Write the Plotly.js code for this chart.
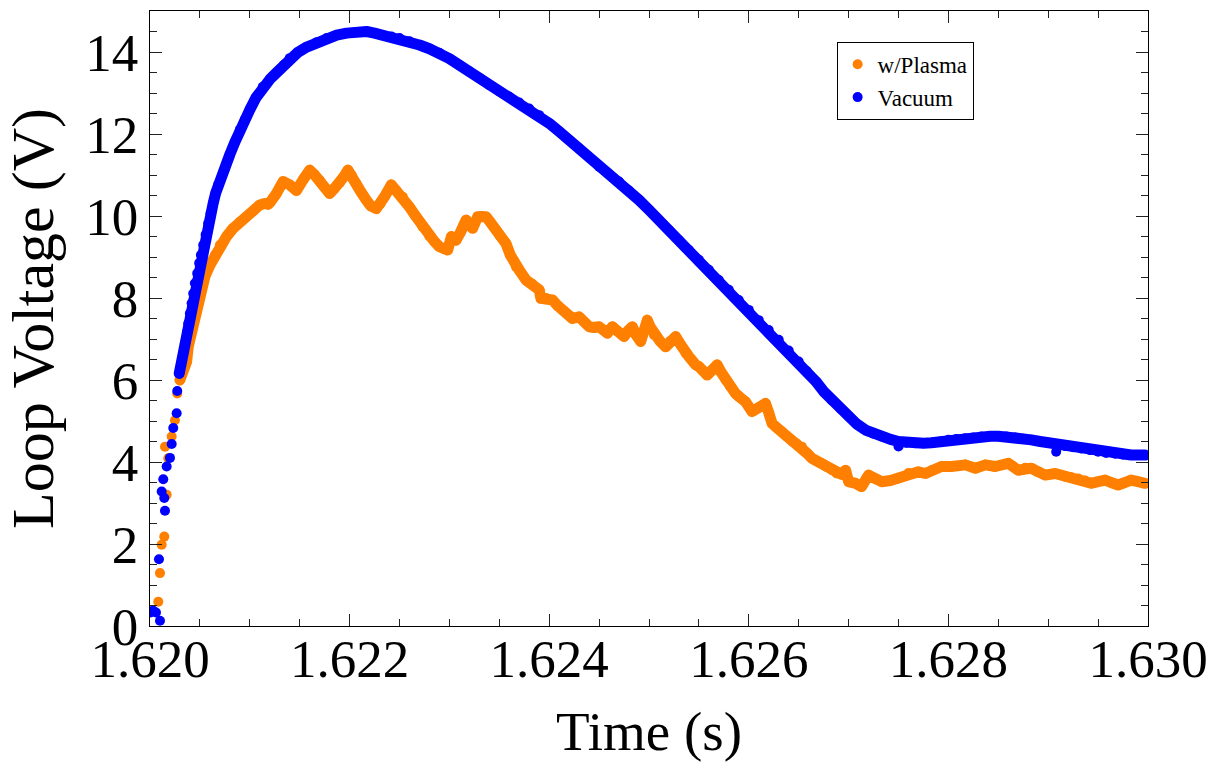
<!DOCTYPE html>
<html>
<head>
<meta charset="utf-8">
<script src="https://cdn.plot.ly/plotly-3.0.1.min.js"></script>
<style>
html,body{margin:0;padding:0;background:#fff;}
.js-line{stroke-linejoin:round !important;stroke-linecap:round !important;}
</style>
</head>
<body>
<div id="chart" style="width:1225px;height:771px;"></div>
<script>
// ---- data (time in s, loop voltage in V) ----
const seriesNames = ["w/Plasma", "Vacuum"];

// sparse points on the initial rise
const plasmaRiseT = [1.620083,1.620100,1.620117,1.620143,1.620167,1.620150,1.620183,1.620217,1.620250,1.620273];
const plasmaRiseV = [0.59,1.29,1.98,2.18,3.20,4.37,4.09,4.62,5.02,5.67];

const plasmaT = [1.620300,1.620330,1.620367,1.620383,1.620417,1.620450,1.620483,1.620517,1.620550,1.620600,
1.620650,1.620700,1.620767,1.620833,1.620900,1.620967,1.621033,1.621100,1.621140,1.621183,
1.621200,1.621267,1.621333,1.621400,1.621467,1.621533,1.621600,1.621650,1.621700,1.621750,
1.621800,1.621850,1.621900,1.621940,1.621983,1.622020,1.622067,1.622110,1.622167,1.622210,
1.622267,1.622310,1.622350,1.622417,1.622470,1.622533,1.622600,1.622667,1.622730,1.622800,
1.622850,1.622900,1.622940,1.622983,1.623020,1.623067,1.623110,1.623167,1.623200,1.623233,
1.623283,1.623320,1.623367,1.623410,1.623467,1.623510,1.623567,1.623610,1.623667,1.623700,
1.623767,1.623830,1.623900,1.623917,1.623970,1.624033,1.624090,1.624150,1.624233,1.624300,
1.624350,1.624400,1.624450,1.624500,1.624583,1.624633,1.624690,1.624750,1.624790,1.624833,
1.624870,1.624917,1.624950,1.624983,1.625010,1.625050,1.625110,1.625167,1.625210,1.625267,
1.625320,1.625367,1.625400,1.625467,1.625500,1.625583,1.625630,1.625683,1.625720,1.625767,
1.625810,1.625867,1.625910,1.625967,1.626033,1.626100,1.626167,1.626200,1.626233,1.626280,
1.626333,1.626380,1.626433,1.626480,1.626533,1.626580,1.626633,1.626680,1.626733,1.626780,
1.626833,1.626880,1.626930,1.626970,1.627000,1.627070,1.627130,1.627200,1.627270,1.627330,
1.627420,1.627500,1.627600,1.627700,1.627770,1.627830,1.627930,1.628030,1.628100,1.628170,
1.628270,1.628370,1.628470,1.628540,1.628600,1.628700,1.628770,1.628830,1.628900,1.628970,
1.629070,1.629170,1.629230,1.629300,1.629370,1.629430,1.629500,1.629570,1.629630,1.629700,
1.629770,1.629830,1.629900,1.629970];
const plasmaV = [6.00,6.20,6.45,6.81,7.22,7.63,7.95,8.28,8.52,8.80,
9.05,9.29,9.50,9.70,9.86,9.98,10.11,10.27,10.30,10.27,
10.32,10.55,10.84,10.76,10.62,10.88,11.12,11.00,10.88,10.70,
10.55,10.68,10.80,10.95,11.12,11.00,10.80,10.60,10.39,10.25,
10.18,10.30,10.47,10.76,10.62,10.47,10.22,9.98,9.74,9.50,
9.38,9.25,9.20,9.17,9.50,9.41,9.60,9.90,9.78,9.70,
9.98,10.00,9.98,9.85,9.66,9.50,9.33,9.05,8.76,8.68,
8.44,8.35,8.20,7.99,8.00,7.95,7.80,7.67,7.50,7.54,
7.42,7.30,7.28,7.30,7.14,7.30,7.18,7.06,7.20,7.30,
7.10,6.94,7.20,7.46,7.30,7.10,6.95,6.81,6.95,7.06,
6.85,6.65,6.57,6.37,6.33,6.12,6.25,6.37,6.20,6.00,
5.85,5.67,5.58,5.47,5.23,5.33,5.43,5.20,4.94,4.84,
4.74,4.62,4.50,4.45,4.37,4.22,4.09,4.03,3.97,3.88,
3.80,3.72,3.70,3.80,3.52,3.48,3.40,3.68,3.58,3.52,
3.55,3.60,3.73,3.76,3.72,3.80,3.89,3.89,3.90,3.93,
3.85,3.93,3.89,3.92,3.97,3.80,3.86,3.85,3.76,3.68,
3.72,3.64,3.63,3.60,3.55,3.48,3.52,3.56,3.50,3.44,
3.50,3.56,3.52,3.48];

const vacuumRiseT = [1.620005,1.620030,1.620060,1.620090,1.620100,1.620117,1.620133,1.620143,1.620150,1.620167,
1.620200,1.620217,1.620233,1.620267,1.620273,1.627500,1.629080];
const vacuumRiseV = [0.33,0.38,0.33,1.63,0.13,3.28,3.58,3.12,2.81,3.89,
4.10,4.44,4.83,5.19,5.73,4.38,4.25];

const vacuumT = [1.620293,1.620333,1.620350,1.620373,1.620383,1.620400,1.620417,1.620433,1.620450,1.620473,
1.620493,1.620510,1.620533,1.620557,1.620583,1.620607,1.620633,1.620657,1.620683,1.620710,
1.620750,1.620800,1.620850,1.620900,1.620950,1.621000,1.621060,1.621130,1.621200,1.621270,
1.621340,1.621400,1.621480,1.621570,1.621670,1.621770,1.621870,1.621970,1.622070,1.622170,
1.622250,1.622330,1.622420,1.622500,1.622600,1.622700,1.622800,1.622900,1.623000,1.623100,
1.623200,1.623300,1.623400,1.623500,1.623600,1.623700,1.623800,1.623900,1.624000,1.624100,
1.624200,1.624300,1.624400,1.624500,1.624600,1.624700,1.624800,1.624900,1.625000,1.625100,
1.625200,1.625300,1.625400,1.625500,1.625600,1.625700,1.625800,1.625900,1.626000,1.626100,
1.626200,1.626300,1.626400,1.626500,1.626580,1.626670,1.626750,1.626830,1.626920,1.627000,
1.627080,1.627170,1.627250,1.627330,1.627420,1.627500,1.627580,1.627670,1.627750,1.627830,
1.627920,1.628000,1.628080,1.628170,1.628250,1.628330,1.628420,1.628500,1.628580,1.628670,
1.628750,1.628830,1.628920,1.629000,1.629080,1.629170,1.629250,1.629330,1.629420,1.629500,
1.629580,1.629670,1.629750,1.629830,1.629900,1.629970];
const vacuumV = [6.16,6.65,6.89,7.18,7.38,7.63,7.87,8.11,8.36,8.60,
8.85,9.05,9.29,9.54,9.82,10.07,10.31,10.55,10.76,10.90,
11.15,11.50,11.80,12.10,12.35,12.59,12.88,13.15,13.33,13.50,
13.68,13.85,13.99,14.12,14.24,14.34,14.41,14.46,14.49,14.50,
14.46,14.41,14.38,14.34,14.26,14.17,14.08,13.98,13.84,13.68,
13.53,13.37,13.19,13.04,12.91,12.77,12.62,12.46,12.26,12.06,
11.86,11.65,11.43,11.20,11.02,10.84,10.62,10.39,10.15,9.90,
9.66,9.41,9.17,8.93,8.69,8.44,8.20,7.95,7.71,7.46,
7.22,6.98,6.72,6.45,6.22,5.97,5.72,5.51,5.30,5.11,
4.93,4.78,4.69,4.62,4.55,4.50,4.47,4.46,4.46,4.47,
4.50,4.54,4.56,4.58,4.60,4.62,4.63,4.63,4.62,4.60,
4.57,4.54,4.50,4.47,4.43,4.39,4.36,4.33,4.29,4.25,
4.22,4.20,4.18,4.17,4.17,4.17];

const xTickVals = [1.620,1.622,1.624,1.626,1.628,1.630];
const yTickVals = [0,2,4,6,8,10,12,14];

// ---- styles ----
const orange = "rgb(255,128,0)";
const blue = "rgb(0,0,255)";
const mSize = 10;
const lWidth = 11;
const serif = "Liberation Serif, Times New Roman, serif";

const traces = [
  {x: plasmaRiseT, y: plasmaRiseV, type: "scatter", mode: "markers", name: seriesNames[0],
   marker: {color: orange, size: mSize}},
  {x: plasmaT, y: plasmaV, type: "scatter", mode: "lines+markers", name: seriesNames[0],
   showlegend: false, marker: {color: orange, size: mSize},
   line: {color: orange, width: lWidth}},
  {x: vacuumRiseT, y: vacuumRiseV, type: "scatter", mode: "markers", name: seriesNames[1],
   marker: {color: blue, size: mSize}},
  {x: vacuumT, y: vacuumV, type: "scatter", mode: "lines+markers", name: seriesNames[1],
   showlegend: false, marker: {color: blue, size: mSize},
   line: {color: blue, width: lWidth}}
];

const axisCommon = {
  showline: true, linecolor: "#000", linewidth: 1.2, mirror: "allticks",
  ticks: "inside", ticklen: 12, tickwidth: 1, tickcolor: "#222",
  showgrid: false, zeroline: false,
  tickfont: {family: serif, size: 53, color: "#000"}
};

const layout = {
  width: 1225, height: 771,
  margin: {l: 150, r: 77, t: 11, b: 145},
  paper_bgcolor: "#fff", plot_bgcolor: "#fff",
  font: {family: serif, color: "#000"},
  showlegend: true,
  legend: {x: 0.688, y: 0.95, xanchor: "left", yanchor: "top",
    bgcolor: "#fff", bordercolor: "#000", borderwidth: 1,
    font: {family: serif, size: 23, color: "#000"}},
  xaxis: Object.assign({}, axisCommon, {
    range: [1.620, 1.630], tickmode: "array", tickvals: xTickVals,
    ticktext: xTickVals.map(v => v.toFixed(3)),
    ticklabelstandoff: -14,
    minor: {dtick: 0.0005, tick0: 1.620, ticks: "inside", ticklen: 7, tickcolor: "#222", tickwidth: 1},
    title: {text: "Time (s)", font: {family: serif, size: 55, color: "#000"}, standoff: 24}
  }),
  yaxis: Object.assign({}, axisCommon, {
    range: [0, 15], tickmode: "array", tickvals: yTickVals,
    ticktext: yTickVals.map(v => String(v)),
    minor: {dtick: 0.5, tick0: 0, ticks: "inside", ticklen: 7, tickcolor: "#222", tickwidth: 1},
    title: {text: "Loop Voltage (V)", font: {family: serif, size: 60, color: "#000"}, standoff: 16}
  })
};

Plotly.newPlot("chart", traces, layout, {displayModeBar: false, staticPlot: true});
</script>
</body>
</html>
